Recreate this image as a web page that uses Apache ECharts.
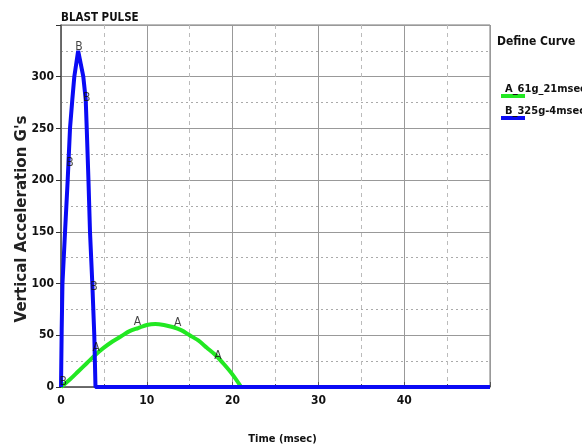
<!DOCTYPE html>
<html><head><meta charset="utf-8">
<script src="https://cdn.jsdelivr.net/npm/echarts@6/dist/echarts.min.js"></script>
<style>html,body{margin:0;padding:0;background:#fff}#c{width:582px;height:446px}</style>
</head><body><div id="c"></div>
<script>
// Curve A: 61g, 21 msec  [time msec, G]
const curveA = [[0,0],[1,7],[2,15],[3,23],[4,31],[5,38],[6,44],[7,49],[8,54],[9,57],[10,60],[11,61],[12,60],[13,58],[14,55],[15,50],[16,45],[17,38],[18,31],[19,22],[20,12],[21,0]];
// Curve B: 325g, 4 msec
const curveB = [[0,0],[0.08,55],[0.17,100],[0.47,150],[0.78,200],[1.05,250],[1.32,278],[1.55,300],[2,325],[2.6,300],[2.88,278],[3,250],[3.2,200],[3.38,150],[3.65,100],[3.88,50],[4.02,0],[50,0]];
// curve identifier letters along each curve
const markA = [[4.1,38],[8.9,63],[13.6,62],[18.3,30]];
const markB = [[0.25,5],[1.05,217],[2.1,329],[3.0,280],[3.85,97]];
const seriesNames = ['A_61g_21msec','B_325g-4msec'];
const xTicks = [0,10,20,30,40];
const yTicks = [0,50,100,150,200,250,300];

const FN = '"DejaVu Sans Condensed","Liberation Sans Narrow","Liberation Sans",sans-serif';
const chart = echarts.init(document.getElementById('c'));
chart.setOption({
  backgroundColor:'#fff',
  animation:false,
  title:{text:'BLAST PULSE',left:56,top:7,textStyle:{fontFamily:FN,fontSize:11.5,fontWeight:'bold',color:'#111'}},
  grid:{left:61,top:25,right:92,bottom:59,show:true,borderColor:'#777',borderWidth:1,
    outerBoundsMode:'none',containLabel:false},
  graphic:[{type:'text',left:497,top:36,style:{text:'Define Curve',font:'bold 12px '+FN,fill:'#111'}}],
  legend:{orient:'vertical',left:496,top:79,itemGap:8,itemWidth:24,itemHeight:4,icon:'rect',
    data:seriesNames,
    formatter:n=>'{t|'+n+'}',
    textStyle:{fontFamily:FN,fontSize:11,fontWeight:'bold',color:'#111',padding:[0,0,0,-25],
      rich:{t:{fontFamily:FN,fontSize:11,fontWeight:'bold',color:'#111',padding:[0,0,13,0]}}}},
  xAxis:{type:'value',min:0,max:50,interval:10,
    name:'Time (msec)',nameLocation:'middle',nameGap:47,
    nameTextStyle:{fontFamily:FN,fontSize:11,fontWeight:'bold',color:'#111',padding:[0,0,0,14]},
    axisLine:{show:true,lineStyle:{color:'#555',width:1.5}},
    axisTick:{show:true,inside:true,length:5,lineStyle:{color:'#555'}},
    axisLabel:{fontFamily:FN,fontSize:12,fontWeight:'bold',color:'#111',margin:8,
      formatter:v=>xTicks.includes(v)?String(v):''},
    splitLine:{show:true,lineStyle:{color:'#999',width:1}},
    minorTick:{show:true,splitNumber:2,length:3},
    minorSplitLine:{show:true,lineStyle:{color:'#bbb',type:[4,4],width:1}}},
  yAxis:{type:'value',min:0,max:350,interval:50,
    name:"Vertical Acceleration G's",nameLocation:'middle',nameGap:31,nameRotate:90,nameMoveOverlap:false,
    nameTextStyle:{fontFamily:'"DejaVu Sans",sans-serif',fontSize:15,fontWeight:'bold',color:'#222',padding:[0,26,0,0]},
    axisLine:{show:true,lineStyle:{color:'#555',width:1.5}},
    axisTick:{show:true,inside:false,length:5,lineStyle:{color:'#333'}},
    axisLabel:{fontFamily:FN,fontSize:12,fontWeight:'bold',color:'#111',margin:7,
      formatter:v=>yTicks.includes(v)?String(v):''},
    splitLine:{show:true,lineStyle:{color:'#999',width:1}},
    minorTick:{show:false,splitNumber:2},
    minorSplitLine:{show:true,lineStyle:{color:'#aaa',type:[2,3],width:1}}},
  series:[
    {name:seriesNames[0],type:'line',data:curveA,smooth:0.3,showSymbol:false,
      lineStyle:{color:'#22e822',width:4},itemStyle:{color:'#22e822'},z:3},
    {name:seriesNames[1],type:'line',data:curveB,smooth:false,showSymbol:false,
      lineStyle:{color:'#0a0af5',width:4},itemStyle:{color:'#0a0af5'},z:4},
    {name:'markA',type:'scatter',data:markA,symbolSize:1,itemStyle:{color:'rgba(0,0,0,0)'},
      label:{show:true,position:'inside',formatter:'A',fontFamily:FN,fontSize:12,color:'#111'},z:6},
    {name:'markB',type:'scatter',data:markB,symbolSize:1,itemStyle:{color:'rgba(0,0,0,0)'},
      label:{show:true,position:'inside',formatter:'B',fontFamily:FN,fontSize:12,color:'#111'},z:6}
  ]
});
</script></body></html>
